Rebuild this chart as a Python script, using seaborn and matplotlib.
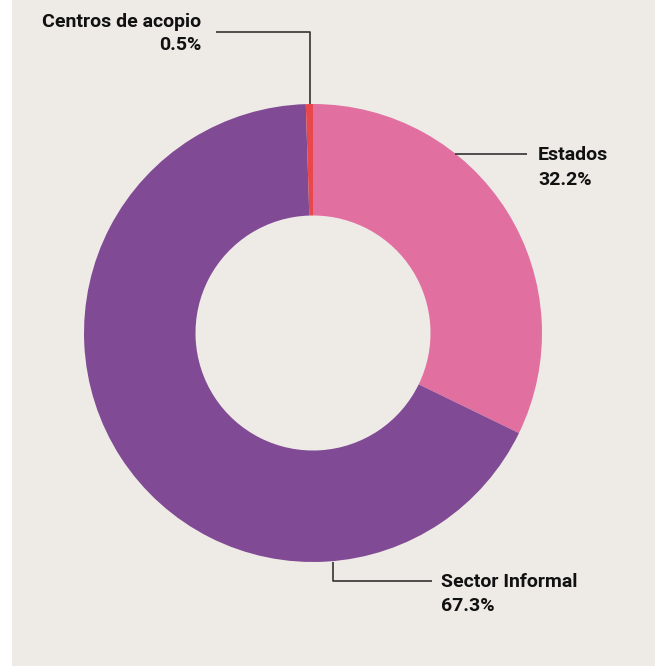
import matplotlib.pyplot as plt
import seaborn as sns
from matplotlib.patches import Rectangle

# Data
labels = ['Estados', 'Sector Informal', 'Centros de acopio']
shares = [32.2, 67.3, 0.5]
colors = ['#E170A1', '#814A95', '#E8474B']

sns.set_style('white')
plt.rcParams['font.family'] = ['Roboto', 'DejaVu Sans']

W, H = 662, 666
fig = plt.figure(figsize=(W / 100, H / 100), dpi=100)
fig.patch.set_facecolor('white')
ax = fig.add_axes([0, 0, 1, 1])

# beige panel
ax.add_patch(Rectangle((12, 0), 643, H, facecolor='#EEEBE6', edgecolor='none', zorder=0))

cx, cy, r = 313, H - 333, 229
ax.pie(shares, colors=colors, startangle=90, counterclock=False,
       center=(cx, cy), radius=r,
       wedgeprops=dict(width=r - 117.5, edgecolor='none'))

ax.set_xlim(0, W)
ax.set_ylim(0, H)
ax.set_aspect('equal')
ax.axis('off')

line_kw = dict(color='#333333', lw=1.2, solid_capstyle='butt', zorder=3)
txt_kw = dict(fontsize=14, fontweight='bold', color='#111111', va='center')

# Centros de acopio
ax.plot([310, 310, 216], [H - 104, H - 32, H - 32], **line_kw)
ax.text(201, H - 22, labels[2], ha='right', **txt_kw)
ax.text(201, H - 45, f'{shares[2]}%', ha='right', **txt_kw)

# Estados
ax.plot([455, 527], [H - 154, H - 154], **line_kw)
ax.text(538, H - 155, labels[0], ha='left', **txt_kw)
ax.text(538, H - 180, f'{shares[0]}%', ha='left', **txt_kw)

# Sector Informal
ax.plot([333, 333, 432], [H - 562, H - 581, H - 581], **line_kw)
ax.text(441, H - 582, labels[1], ha='left', **txt_kw)
ax.text(441, H - 606, f'{shares[1]}%', ha='left', **txt_kw)

fig.savefig('out.png', dpi=100)
